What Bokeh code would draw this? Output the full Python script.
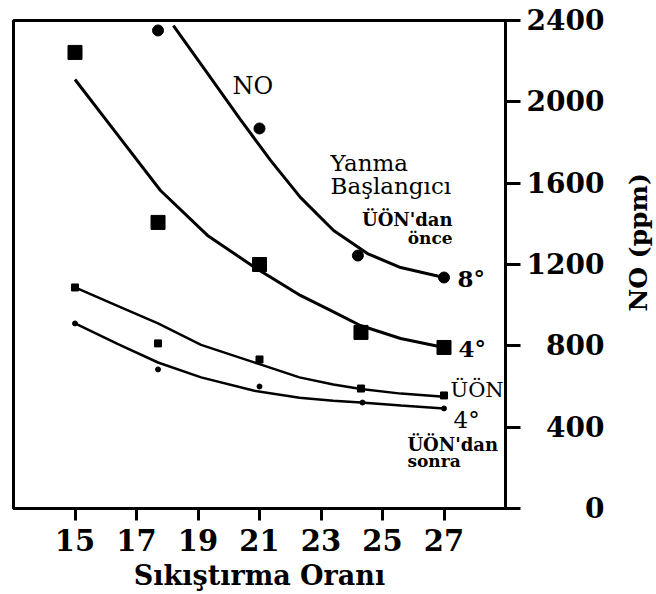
import math
from bokeh.plotting import figure
from bokeh.models import Label
from bokeh.layouts import row
from bokeh.embed import file_html
from bokeh.resources import INLINE

# ---- axes ----
x_ticks = [15, 17, 19, 21, 23, 25, 27]
y_ticks = [0, 400, 800, 1200, 1600, 2000, 2400]
y_tick_labels = ["0", "400", "800", "1200", "1600", "2000", "2400"]
x_title = "Sıkıştırma Oranı"
y_title = "NO (ppm)"

# ---- measured points ----
cr_8 = [17.7, 21.0, 24.2, 27.0]
no_8 = [2351, 1869, 1244, 1136]

cr_4 = [15.0, 17.7, 21.0, 24.3, 27.0]
no_4 = [2243, 1407, 1200, 866, 792]

cr_uon = [15.0, 17.7, 21.0, 24.3, 27.0]
no_uon = [1087, 812, 733, 590, 556]

cr_4s = [15.0, 17.7, 21.0, 24.35, 27.0]
no_4s = [910, 684, 600, 521, 492]

# ---- fitted curves ----
fit_x_8 = [18.2, 19.31, 20.38, 21.36, 22.33, 23.41, 24.51, 25.59, 27.0]
fit_8 = [2375, 2140, 1913, 1712, 1530, 1367, 1254, 1185, 1136]

fit_x_4 = [15.0, 16.38, 17.78, 19.31, 20.8, 22.33, 23.31, 24.28, 25.59, 27.0]
fit_4 = [2110, 1839, 1564, 1343, 1190, 1048, 974, 900, 836, 792]

fit_x_uon = [15.0, 16.4, 17.7, 19.1, 21.0, 22.3, 23.4, 24.3, 25.6, 27.0]
fit_uon = [1087, 995, 910, 805, 710, 645, 610, 588, 565, 550]

fit_x_4s = [15.0, 16.4, 17.7, 19.1, 20.8, 22.3, 23.4, 24.3, 25.6, 27.0]
fit_4s = [910, 808, 718, 645, 580, 545, 530, 521, 506, 492]

FONT = "DejaVu Serif"

p = figure(width=621, height=594, x_range=(13, 29), y_range=(0, 2400),
           output_backend="svg", toolbar_location=None, y_axis_location="right",
           min_border_left=13, min_border_top=20, min_border_right=116,
           min_border_bottom=86)
p.xgrid.visible = False
p.ygrid.visible = False
p.outline_line_color = "black"
p.outline_line_width = 3
p.outline_line_alpha = 1.0
p.background_fill_color = "white"
p.border_fill_color = "white"

# x axis
xa = p.xaxis[0]
xa.ticker = x_ticks
xa.axis_line_width = 3
xa.major_tick_line_width = 3
xa.major_tick_out = 12
xa.major_tick_in = 0
xa.minor_tick_out = 0
xa.minor_tick_in = 0
xa.major_label_text_font = FONT
xa.major_label_text_font_style = "bold"
xa.major_label_text_font_size = "29px"
xa.major_label_text_color = "black"
xa.major_label_standoff = 8
xa.axis_label = x_title
xa.axis_label_text_font = FONT
xa.axis_label_text_font_style = "bold"
xa.axis_label_text_font_size = "27px"
xa.axis_label_text_color = "black"
xa.axis_label_standoff = 6

# y axis (right), labels right-aligned with figure spaces
ya = p.yaxis[0]
ya.ticker = y_ticks
ya.axis_line_width = 3
ya.major_tick_line_width = 3
ya.major_tick_out = 15
ya.major_tick_in = 0
ya.minor_tick_out = 0
ya.minor_tick_in = 0
ya.major_label_standoff = 6
ya.major_label_text_font = FONT
ya.major_label_text_font_style = "bold"
ya.major_label_text_font_size = "28px"
ya.major_label_text_color = "black"
w = max(len(s) for s in y_tick_labels)
ya.major_label_overrides = {t: "\u2007" * (w - len(s)) + s
                            for t, s in zip(y_ticks, y_tick_labels)}

# curves
p.line(fit_x_8, fit_8, line_width=3, color="black")
p.line(fit_x_4, fit_4, line_width=3, color="black")
p.line(fit_x_uon, fit_uon, line_width=2.5, color="black")
p.line(fit_x_4s, fit_4s, line_width=2.5, color="black")

# points
p.scatter(cr_8, no_8, marker="circle", size=11, color="black")
p.scatter(cr_4, no_4, marker="square", size=14, color="black")
p.scatter(cr_uon, no_uon, marker="square", size=7, color="black")
p.scatter(cr_4s, no_4s, marker="circle", size=5, color="black")

def lab(x, y, text, size, bold=False, align="left"):
    p.add_layout(Label(x=x, y=y, text=text, text_align=align,
                       text_baseline="alphabetic", text_font=FONT,
                       text_font_style="bold" if bold else "normal",
                       text_font_size=size, text_color="black"))

lab(20.12, 2080, "NO", "24px")
lab(23.31, 1697, "Yanma", "23px")
lab(23.31, 1588, "Başlangıcı", "23px")
lab(27.28, 1421, "ÜÖN'dan", "18px", bold=True, align="right")
lab(27.28, 1332, "önce", "17px", bold=True, align="right")
lab(27.44, 1131, "8°", "23px", bold=True)
lab(27.47, 787, "4°", "23px", bold=True)
lab(27.21, 585, "ÜÖN", "21px")
lab(27.31, 433, "4°", "23px")
lab(25.81, 314, "ÜÖN'dan", "18px", bold=True)
lab(25.81, 232, "sonra", "17px", bold=True)

# narrow strip holding the vertical y-axis title
t = figure(width=35, height=594, x_range=(0, 35), y_range=(0, 594),
           output_backend="svg", toolbar_location=None,
           x_axis_location=None, y_axis_location=None,
           min_border=0, outline_line_color=None)
t.grid.visible = False
t.border_fill_color = "white"
t.background_fill_color = "white"
t.add_layout(Label(x=17, y=324, text=y_title, angle=math.pi / 2,
                   text_align="center", text_baseline="middle",
                   text_font=FONT, text_font_style="bold",
                   text_font_size="25px", text_color="black"))

layout = row(p, t)
open("out.html", "w").write(file_html(layout, INLINE))
